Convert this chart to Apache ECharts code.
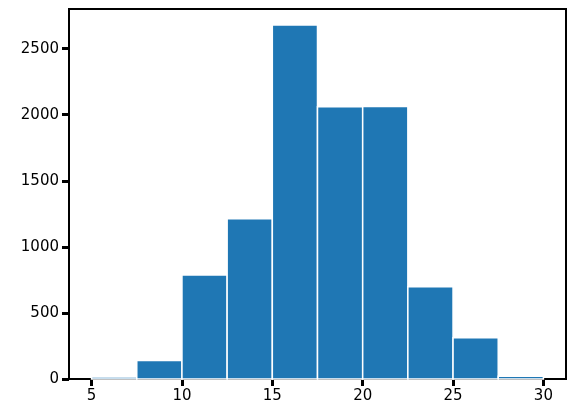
<!DOCTYPE html>
<html>
<head>
<meta charset="utf-8">
<script src="https://cdn.jsdelivr.net/npm/echarts@6/dist/echarts.min.js"></script>
<style>html,body{margin:0;padding:0;background:#fff}#c{width:574px;height:419px}</style>
</head>
<body>
<div id="c"></div>
<script>
const binEdges = [5, 7.5, 10, 12.5, 15, 17.5, 20, 22.5, 25, 27.5, 30];
const counts = [15, 140, 787, 1213, 2678, 2061, 2063, 698, 312, 20];
const xTicks = [5, 10, 15, 20, 25, 30];
const yTicks = [0, 500, 1000, 1500, 2000, 2500];

const data = counts.map((c, i) => [binEdges[i], binEdges[i + 1], c]);
const chart = echarts.init(document.getElementById('c'));
const font = { fontFamily: 'DejaVu Sans', fontSize: 15, color: '#000', formatter: v => String(v) };
chart.setOption({
  animation: false,
  grid: { left: 69, right: 8, top: 9, bottom: 40, show: true, borderColor: '#000', borderWidth: 2, backgroundColor: 'transparent' },
  xAxis: {
    type: 'value', min: 3.75, max: 31.25,
    axisLine: { show: false },
    splitLine: { show: false },
    axisTick: { show: true, length: 7, lineStyle: { color: '#000', width: 3 }, customValues: xTicks },
    axisLabel: { ...font, margin: 10, customValues: xTicks }
  },
  yAxis: {
    type: 'value', min: 0, max: 2800,
    axisLine: { show: false },
    splitLine: { show: false },
    axisTick: { show: true, length: 7, lineStyle: { color: '#000', width: 3 }, customValues: yTicks },
    axisLabel: { ...font, margin: 10, customValues: yTicks }
  },
  series: [{
    type: 'custom',
    data: data,
    encode: { x: [0, 1], y: 2 },
    renderItem: function (params, api) {
      const p0 = api.coord([api.value(0), 0]);
      const p1 = api.coord([api.value(1), api.value(2)]);
      return {
        type: 'rect',
        shape: { x: p0[0], y: p1[1], width: p1[0] - p0[0], height: p0[1] - p1[1] },
        style: { fill: '#1f77b4', stroke: '#fff', lineWidth: 1.5 }
      };
    }
  }]
});
</script>
</body>
</html>
